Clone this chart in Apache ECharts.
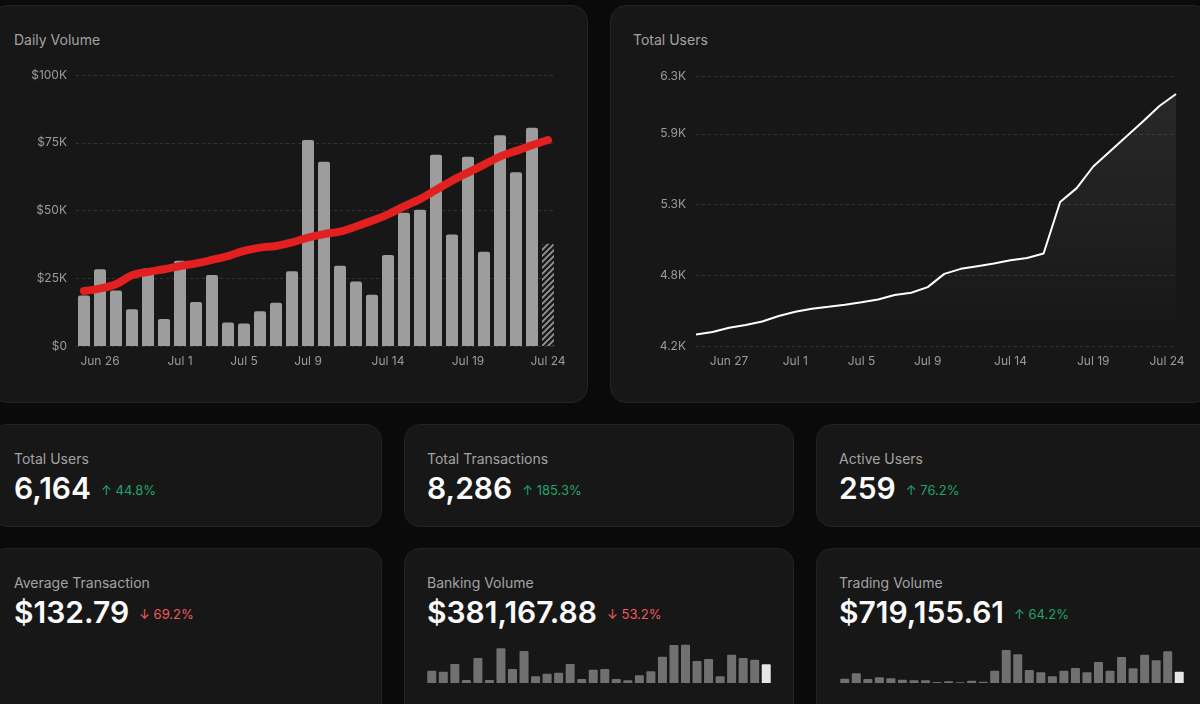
<!DOCTYPE html>
<html>
<head>
<meta charset="utf-8">
<script src="https://cdn.jsdelivr.net/npm/echarts@6/dist/echarts.min.js"></script>
<style>
  body { margin: 0; background: #0a0a0a; font-family: Inter, 'Noto Sans', sans-serif; }
  #page { position: relative; width: 1200px; height: 704px; overflow: hidden; }
  .card { position: absolute; background: #171717; border: 1px solid #232323; border-radius: 16px; box-sizing: border-box; }
  .title { position: absolute; left: 22px; top: 25px; font-size: 14px; line-height: 17px; color: #a3a3a3; white-space: nowrap; }
  .value { position: absolute; left: 22px; top: 46px; font-size: 30px; line-height: 34px; font-weight: 600; color: #fafafa; white-space: nowrap; }
  .delta { font-size: 13px; font-weight: 400; margin-left: 10px; vertical-align: 4px; }
  .up { color: #22a36b; }
  .down { color: #ef5a5a; }
  #chart { position: absolute; left: 0; top: 0; width: 1200px; height: 704px; }
</style>
</head>
<body>
<div id="page">
  <div class="card" style="left:-9px;top:5px;width:597px;height:398px"><div class="title">Daily Volume</div></div>
  <div class="card" style="left:610px;top:5px;width:600px;height:398px"><div class="title">Total Users</div></div>

  <div class="card" style="left:-9px;top:424px;width:391px;height:103px">
    <div class="title">Total Users</div>
    <div class="value">6,164<span class="delta up">↑ 44.8%</span></div>
  </div>
  <div class="card" style="left:404px;top:424px;width:390px;height:103px">
    <div class="title">Total Transactions</div>
    <div class="value">8,286<span class="delta up">↑ 185.3%</span></div>
  </div>
  <div class="card" style="left:816px;top:424px;width:400px;height:103px">
    <div class="title">Active Users</div>
    <div class="value">259<span class="delta up">↑ 76.2%</span></div>
  </div>

  <div class="card" style="left:-9px;top:548px;width:391px;height:180px">
    <div class="title">Average Transaction</div>
    <div class="value">$132.79<span class="delta down">↓ 69.2%</span></div>
  </div>
  <div class="card" style="left:404px;top:548px;width:390px;height:180px">
    <div class="title">Banking Volume</div>
    <div class="value">$381,167.88<span class="delta down">↓ 53.2%</span></div>
  </div>
  <div class="card" style="left:816px;top:548px;width:400px;height:180px">
    <div class="title">Trading Volume</div>
    <div class="value">$719,155.61<span class="delta up">↑ 64.2%</span></div>
  </div>

  <div id="chart"></div>
</div>

<script>
var dates = ['Jun 25', 'Jun 26', 'Jun 27', 'Jun 28', 'Jun 29', 'Jun 30', 'Jul 1', 'Jul 2', 'Jul 3', 'Jul 4',
  'Jul 5', 'Jul 6', 'Jul 7', 'Jul 8', 'Jul 9', 'Jul 10', 'Jul 11', 'Jul 12', 'Jul 13', 'Jul 14',
  'Jul 15', 'Jul 16', 'Jul 17', 'Jul 18', 'Jul 19', 'Jul 20', 'Jul 21', 'Jul 22', 'Jul 23', 'Jul 24']

// daily volume in $
var dailyVolume = [18600, 28300, 20500, 13600, 28600, 10000, 31500, 16200, 26200, 8700,
  8300, 12800, 16000, 27600, 76000, 68000, 29600, 23800, 18900, 33600,
  49200, 50300, 70600, 41100, 69800, 34800, 77800, 64100, 80500, 37700]

// red trend line drawn over the bars
var volumeTrend = [20300, 21200, 22800, 26100, 27300, 28300, 29500, 30500, 31800, 33200,
  35100, 36300, 36900, 38200, 40000, 41300, 42200, 44100, 46200, 48600,
  51500, 54200, 57600, 61000, 64000, 66900, 69900, 72000, 74100, 76000]

var totalUsers = [4290, 4309, 4342, 4363, 4391, 4433, 4466, 4490, 4505, 4521,
  4541, 4562, 4596, 4614, 4658, 4761, 4800, 4821, 4841, 4867,
  4885, 4919, 5320, 5428, 5596, 5713, 5830, 5946, 6067, 6160]

// sparklines, $K
var bankingVolume = [9.2, 8.5, 14.3, 2.3, 18.8, 2.3, 26, 10.5, 24, 5,
  7, 7.7, 14.3, 3, 10, 10.5, 3, 2, 5.8, 8.8,
  19.7, 28.5, 28.7, 16.5, 18, 5, 21.2, 18.8, 17.5, 14]
var tradingVolume = [8.6, 19.4, 8, 11.4, 9.4, 6.6, 5.4, 5.4, 2, 3.4,
  1.4, 4.6, 2.6, 24.6, 66, 57.4, 26, 21.4, 13.4, 24.6,
  30, 21.4, 42, 24.6, 52, 29.4, 56.6, 45.4, 63.4, 22.6]

var volumeLabelDays = [1, 6, 10, 14, 19, 24, 29]
var usersLabelDays = [2, 6, 10, 14, 19, 24, 29]

var labelColor = '#9b9b9b'
var gridLine = { show: true, lineStyle: { color: '#333333', type: [3, 3] } }

// stripes for the unfinished last day
function makeHatch () {
  var c = document.createElement('canvas')
  c.width = 6
  c.height = 6
  var ctx = c.getContext('2d')
  ctx.fillStyle = '#1c1c1c'
  ctx.fillRect(0, 0, 6, 6)
  ctx.strokeStyle = '#9a9a9a'
  ctx.lineWidth = 1.6
  ctx.beginPath()
  ctx.moveTo(-1, 7); ctx.lineTo(7, -1)
  ctx.moveTo(-4, 4); ctx.lineTo(4, -4)
  ctx.moveTo(2, 10); ctx.lineTo(10, 2)
  ctx.stroke()
  return c
}
var hatch = makeHatch()

function lastHighlighted (arr, color, lastColor) {
  return arr.map(function (v, i) {
    return { value: v, itemStyle: { color: i === arr.length - 1 ? lastColor : color } }
  })
}

var myChart = echarts.init(document.getElementById('chart'), null, { renderer: 'canvas' })
myChart.setOption({
  animation: false,
  textStyle: { fontFamily: 'Inter, sans-serif' },
  grid: [
    { left: 76, top: 75, width: 480, height: 271 },
    { left: 696, top: 76, width: 480, height: 270 },
    { left: 426, top: 643, width: 346, height: 40 },
    { left: 839, top: 643, width: 346, height: 40 }
  ],
  xAxis: [
    {
      gridIndex: 0,
      type: 'category',
      data: dates,
      axisLine: { show: false },
      axisTick: { show: false },
      axisLabel: {
        color: labelColor,
        fontSize: 12,
        margin: 9,
        interval: function (i) { return volumeLabelDays.indexOf(i) > -1 }
      }
    },
    {
      gridIndex: 1,
      type: 'category',
      data: dates,
      boundaryGap: false,
      axisLine: { show: false },
      axisTick: { show: false },
      axisLabel: {
        color: labelColor,
        fontSize: 12,
        margin: 9,
        interval: function (i) { return usersLabelDays.indexOf(i) > -1 },
        formatter: function (v, i) {
          // last label sits a little inside the card edge
          return i === dates.length - 1 ? '{end|' + v + '}' : v
        },
        rich: { end: { color: labelColor, fontSize: 12, padding: [0, 18, 0, 0] } }
      }
    },
    { gridIndex: 2, type: 'category', data: dates, show: false },
    { gridIndex: 3, type: 'category', data: dates, show: false }
  ],
  yAxis: [
    {
      gridIndex: 0,
      type: 'value',
      min: 0,
      max: 100000,
      interval: 25000,
      axisLabel: {
        color: labelColor,
        fontSize: 12,
        margin: 9,
        formatter: function (v) { return v === 0 ? '$0' : '$' + v / 1000 + 'K' }
      },
      splitLine: gridLine
    },
    {
      gridIndex: 1,
      type: 'value',
      min: 4200,
      max: 6300,
      interval: 550,
      axisLabel: {
        color: labelColor,
        fontSize: 12,
        margin: 10,
        formatter: function (v) { return (Math.round(v / 100) / 10).toFixed(1) + 'K' }
      },
      splitLine: gridLine
    },
    { gridIndex: 2, type: 'value', min: 0, max: 30, show: false },
    { gridIndex: 3, type: 'value', min: 0, max: 80, show: false }
  ],
  series: [
    {
      name: 'Daily Volume',
      type: 'bar',
      xAxisIndex: 0,
      yAxisIndex: 0,
      barWidth: 12,
      itemStyle: { borderRadius: [2, 2, 0, 0] },
      data: lastHighlighted(dailyVolume, '#9d9d9d', { image: hatch, repeat: 'repeat' })
    },
    {
      name: 'Trend',
      type: 'line',
      xAxisIndex: 0,
      yAxisIndex: 0,
      data: volumeTrend,
      smooth: 0.35,
      symbol: 'none',
      z: 5,
      lineStyle: { color: '#e2201f', width: 8, cap: 'round', join: 'round' }
    },
    {
      name: 'Total Users',
      type: 'line',
      xAxisIndex: 1,
      yAxisIndex: 1,
      data: totalUsers,
      symbol: 'none',
      lineStyle: { color: '#ffffff', width: 2 },
      areaStyle: {
        color: new echarts.graphic.LinearGradient(0, 0, 0, 1, [
          { offset: 0, color: 'rgba(255,255,255,0.11)' },
          { offset: 1, color: 'rgba(255,255,255,0.0)' }
        ])
      }
    },
    {
      name: 'Banking Volume',
      type: 'bar',
      xAxisIndex: 2,
      yAxisIndex: 2,
      barWidth: 9,
      itemStyle: { borderRadius: [1, 1, 0, 0] },
      data: lastHighlighted(bankingVolume, '#707070', '#e6e6e6')
    },
    {
      name: 'Trading Volume',
      type: 'bar',
      xAxisIndex: 3,
      yAxisIndex: 3,
      barWidth: 9,
      itemStyle: { borderRadius: [1, 1, 0, 0] },
      data: lastHighlighted(tradingVolume, '#707070', '#e6e6e6')
    }
  ]
})
</script>
</body>
</html>
